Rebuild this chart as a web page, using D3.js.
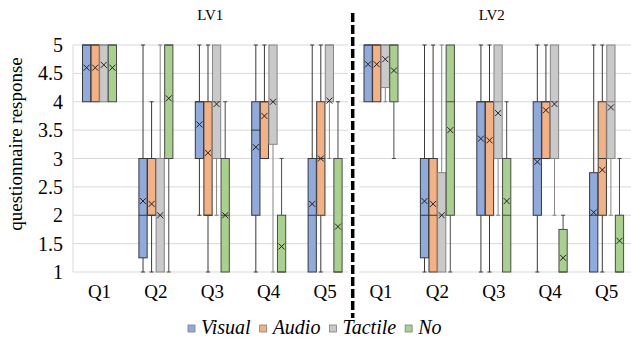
<!DOCTYPE html>
<html>
<head>
<meta charset="utf-8">
<script src="https://cdn.jsdelivr.net/npm/d3@7"></script>
<style>
  body { margin: 0; background: #fff; }
</style>
</head>
<body>
<div id="chart"></div>
<script>
const WIDTH = 631;
const HEIGHT = 343;
const FONT = "Liberation Serif";

const questions = ["Q1", "Q2", "Q3", "Q4", "Q5"];
const seriesNames = ["Visual", "Audio", "Tactile", "No"];
const yTicks = [1, 1.5, 2, 2.5, 3, 3.5, 4, 4.5, 5];

// each row: [min, q1, median, q3, max, mean]
const lv1Visual  = [[4, 4, 5, 5, 5, 4.6], [1, 1.25, 2, 3, 5, 2.25], [2, 3, 4, 4, 5, 3.6], [1, 2, 3.5, 4, 5, 3.2], [1, 1, 2, 3, 5, 2.2]];
const lv1Audio   = [[4, 4, 5, 5, 5, 4.6], [1, 2, 2, 3, 4, 2.2], [1, 2, 2, 4, 5, 3.1], [3, 3, 4, 4, 5, 3.75], [1, 2, 3, 4, 5, 3.0]];
const lv1Tactile = [[4, 4, 5, 5, 5, 4.65], [1, 1, 2, 3, 5, 2.0], [2, 3, 4, 5, 5, 3.96], [1, 3.25, 4, 5, 5, 4.0], [3, 4, 5, 5, 5, 4.02]];
const lv1No      = [[4, 4, 5, 5, 5, 4.6], [1, 3, 5, 5, 5, 4.06], [1, 1, 2, 3, 4, 2.0], [1, 1, 1, 2, 3, 1.45], [1, 1, 1, 3, 4, 1.8]];

const lv2Visual  = [[4, 4, 5, 5, 5, 4.66], [1, 1.25, 2, 3, 5, 2.25], [1, 2, 4, 4, 5, 3.35], [1, 2, 3, 4, 5, 2.94], [1, 1, 2, 2.75, 5, 2.05]];
const lv2Audio   = [[4, 4, 5, 5, 5, 4.66], [1, 1, 2, 3, 5, 2.2], [1, 2, 4, 4, 5, 3.32], [3, 3, 4, 4, 5, 3.85], [1, 2, 3, 4, 5, 2.8]];
const lv2Tactile = [[4, 4.25, 5, 5, 5, 4.75], [1, 1, 2, 2.75, 5, 2.0], [2, 3, 4, 5, 5, 3.8], [2, 3, 4, 5, 5, 3.96], [2, 3, 4, 5, 5, 3.9]];
const lv2No      = [[3, 4, 5, 5, 5, 4.55], [1, 2, 4, 5, 5, 3.5], [1, 1, 2, 3, 4, 2.25], [1, 1, 1, 1.75, 2, 1.25], [1, 1, 1, 2, 3, 1.55]];

const fills   = ["#8faadc", "#f4b183", "#c9c9c9", "#a9d18e"];
const strokes = ["#383838", "#383838", "#858585", "#4a4a4a"];

const panels = [
  { title: "LV1", x0: 71.3, gridX0: 73, gridX1: 348, data: [lv1Visual, lv1Audio, lv1Tactile, lv1No], axisLine: true },
  { title: "LV2", x0: 352.8, gridX0: 359, gridX1: 631, data: [lv2Visual, lv2Audio, lv2Tactile, lv2No], axisLine: false }
];

const svg = d3.select("#chart")
  .append("svg")
  .attr("width", WIDTH)
  .attr("height", HEIGHT)
  .attr("viewBox", [0, 0, WIDTH, HEIGHT]);

const y = d3.scaleLinear().domain([1, 5]).range([272, 45]);

panels.forEach(p => {
  const g = svg.append("g");

  const x = d3.scaleBand()
    .domain(questions)
    .range([p.x0, p.x0 + 282]);

  const bw = x.bandwidth();
  const inner = d3.scaleBand()
    .domain(seriesNames)
    .range([bw / 2 - 17, bw / 2 + 17])
    .paddingInner(0.04);

  // gridlines
  g.selectAll(".grid")
    .data(yTicks)
    .enter().append("line")
    .attr("x1", p.gridX0).attr("x2", p.gridX1)
    .attr("y1", d => y(d)).attr("y2", d => y(d))
    .attr("stroke", "#d9d9d9")
    .attr("stroke-width", 1);

  if (p.axisLine) {
    g.append("line")
      .attr("x1", p.gridX0).attr("x2", p.gridX0)
      .attr("y1", y(5)).attr("y2", y(1))
      .attr("stroke", "#d9d9d9");
  }

  // title
  g.append("text")
    .attr("x", p.x0 + 139)
    .attr("y", 20)
    .attr("text-anchor", "middle")
    .style("font-family", FONT)
    .style("font-size", "15px")
    .text(p.title);

  // category labels
  g.selectAll(".xlab")
    .data(questions)
    .enter().append("text")
    .attr("x", d => x(d) + bw / 2)
    .attr("y", 298)
    .attr("text-anchor", "middle")
    .style("font-family", FONT)
    .style("font-size", "19px")
    .text(d => d);

  // boxes
  seriesNames.forEach((s, si) => {
    const sg = g.append("g");
    const rows = p.data[si].map((r, qi) => ({ q: questions[qi], r }));
    const bx = d => x(d.q) + inner(s);
    const cx = d => bx(d) + inner.bandwidth() / 2;
    const w = inner.bandwidth();

    // whiskers
    sg.selectAll(".wlo").data(rows.filter(d => d.r[0] < d.r[1])).enter().append("line")
      .attr("x1", cx).attr("x2", cx)
      .attr("y1", d => y(d.r[0])).attr("y2", d => y(d.r[1]))
      .attr("stroke", strokes[si]).attr("stroke-width", 1);
    sg.selectAll(".whi").data(rows.filter(d => d.r[4] > d.r[3])).enter().append("line")
      .attr("x1", cx).attr("x2", cx)
      .attr("y1", d => y(d.r[3])).attr("y2", d => y(d.r[4]))
      .attr("stroke", strokes[si]).attr("stroke-width", 1);
    // caps
    sg.selectAll(".clo").data(rows.filter(d => d.r[0] < d.r[1])).enter().append("line")
      .attr("x1", d => cx(d) - 2).attr("x2", d => cx(d) + 2)
      .attr("y1", d => y(d.r[0])).attr("y2", d => y(d.r[0]))
      .attr("stroke", strokes[si]).attr("stroke-width", 1);
    sg.selectAll(".chi").data(rows.filter(d => d.r[4] > d.r[3])).enter().append("line")
      .attr("x1", d => cx(d) - 2).attr("x2", d => cx(d) + 2)
      .attr("y1", d => y(d.r[4])).attr("y2", d => y(d.r[4]))
      .attr("stroke", strokes[si]).attr("stroke-width", 1);

    // box
    sg.selectAll(".box").data(rows).enter().append("rect")
      .attr("x", bx)
      .attr("width", w)
      .attr("y", d => y(d.r[3]))
      .attr("height", d => y(d.r[1]) - y(d.r[3]))
      .attr("fill", fills[si])
      .attr("stroke", strokes[si])
      .attr("stroke-width", 1);

    // median
    sg.selectAll(".med").data(rows).enter().append("line")
      .attr("x1", bx).attr("x2", d => bx(d) + w)
      .attr("y1", d => y(d.r[2])).attr("y2", d => y(d.r[2]))
      .attr("stroke", strokes[si]).attr("stroke-width", 1);

    // mean marker (x)
    sg.selectAll(".mean").data(rows).enter().append("path")
      .attr("d", d => {
        const mx = cx(d), my = y(d.r[5]), h = 3;
        return `M${mx - h},${my - h}L${mx + h},${my + h}M${mx - h},${my + h}L${mx + h},${my - h}`;
      })
      .attr("stroke", "#222")
      .attr("stroke-width", 1)
      .attr("fill", "none");
  });
});

// y axis labels
svg.selectAll(".ylab")
  .data(yTicks)
  .enter().append("text")
  .attr("x", 63)
  .attr("y", d => y(d))
  .attr("dy", "0.35em")
  .attr("text-anchor", "end")
  .style("font-family", FONT)
  .style("font-size", "20px")
  .text(d => d);

svg.append("text")
  .attr("transform", "translate(22,144) rotate(-90)")
  .attr("text-anchor", "middle")
  .style("font-family", FONT)
  .style("font-size", "19px")
  .text("questionnaire response");

// divider between the two panels
svg.append("line")
  .attr("x1", 352.7).attr("x2", 352.7)
  .attr("y1", 13).attr("y2", 318)
  .attr("stroke", "#000")
  .attr("stroke-width", 3.5)
  .attr("stroke-dasharray", "9,3");

// legend
const legend = svg.append("g");
let lx = 188;
seriesNames.forEach((s, i) => {
  legend.append("rect")
    .attr("x", lx).attr("y", 325)
    .attr("width", 7).attr("height", 7)
    .attr("fill", fills[i])
    .attr("stroke", "#7f7f7f")
    .attr("stroke-width", 0.8);
  const t = legend.append("text")
    .attr("x", lx + 13)
    .attr("y", 334)
    .style("font-family", FONT)
    .style("font-size", "20px")
    .style("font-style", "italic")
    .text(s);
  lx += 13 + t.node().getComputedTextLength() + 9;
});
</script>
</body>
</html>
